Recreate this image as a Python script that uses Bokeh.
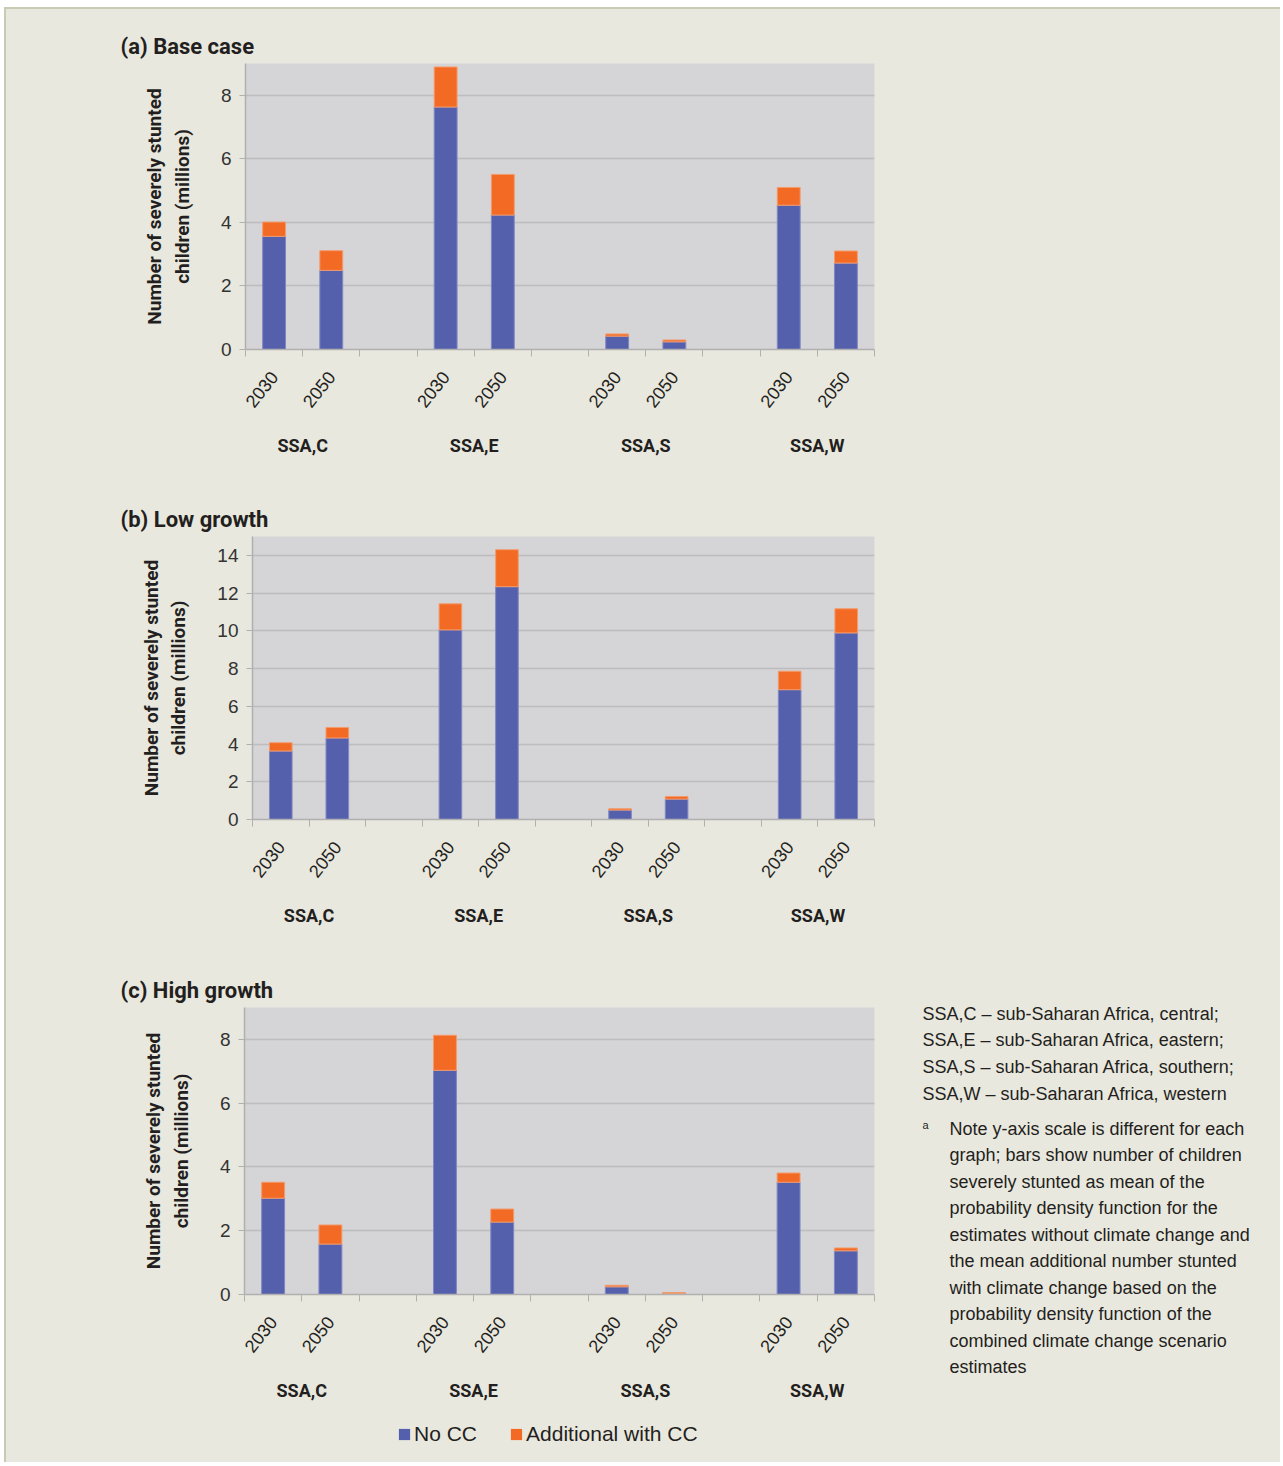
from bokeh.plotting import figure
from bokeh.models import (Range1d, FixedTicker, LinearAxis, Label, Legend, LegendItem,
                          ColumnDataSource, Title)
from bokeh.layouts import column, row
from bokeh.embed import file_html
from bokeh.resources import INLINE

# ---------------- data ----------------
regions = ["SSA,C", "SSA,E", "SSA,S", "SSA,W"]
years = ["2030", "2050"]

# order: C2030, C2050, E2030, E2050, S2030, S2050, W2030, W2050
base_nocc = [3.56, 2.49, 7.63, 4.23, 0.42, 0.24, 4.54, 2.72]
base_add = [0.45, 0.62, 1.26, 1.28, 0.07, 0.06, 0.56, 0.38]

low_nocc = [3.63, 4.32, 10.05, 12.34, 0.50, 1.08, 6.88, 9.89]
low_add = [0.44, 0.56, 1.38, 1.96, 0.07, 0.14, 0.98, 1.28]

high_nocc = [3.02, 1.58, 7.03, 2.27, 0.24, 0.03, 3.52, 1.37]
high_add = [0.50, 0.60, 1.10, 0.41, 0.05, 0.03, 0.29, 0.09]

panel_titles = ["(a) Base case", "(b) Low growth", "(c) High growth"]
y_max = [9, 15, 9]
y_ticks = [[0, 2, 4, 6, 8], [0, 2, 4, 6, 8, 10, 12, 14], [0, 2, 4, 6, 8]]
series_names = ["No CC", "Additional with CC"]
y_label = "Number of severely stunted\nchildren (millions)"

region_notes = [
    "SSA,C \u2013 sub-Saharan Africa, central;",
    "SSA,E \u2013 sub-Saharan Africa, eastern;",
    "SSA,S \u2013 sub-Saharan Africa, southern;",
    "SSA,W \u2013 sub-Saharan Africa, western",
]
note_mark = "a"
note_lines = [
    "Note y-axis scale is different for each",
    "graph; bars show number of children",
    "severely stunted as mean of the",
    "probability density function for the",
    "estimates without climate change and",
    "the mean additional number stunted",
    "with climate change based on the",
    "probability density function of the",
    "combined climate change scenario",
    "estimates",
]

# ---------------- style ----------------
BG = "#E9E8DE"
PLOT_BG = "#D5D5D7"
GRID = "#BDBDBF"
AXIS = "#B0B0B0"
BLUE = "#5560AC"
ORANGE = "#F26A24"
TXT = "#231F20"
EDGE = "#C9CAB3"
BOLD = "Roboto"
SANS = "Liberation Sans"

OX, OY = 6, 9          # page position of the beige panel
PAGE_R = 1280          # page x where the layout ends
W = PAGE_R - OX
RIGHT_EDGE = 874       # page x of plot-frame right edge

# per chart: page top of figure, figure height, frame top, frame bottom, frame left
charts = [
    dict(top=9, h=469, ftop=63, fbot=349, fleft=245),
    dict(top=478, h=470, ftop=536, fbot=819, fleft=252),
    dict(top=948, h=462, ftop=1007, fbot=1294, fleft=244),
]
C_RIGHT_PAD = 20

slot = len(years) + 1
n_slots = slot * len(regions) - 1
bar_x, year_lab = [], []
for g in range(len(regions)):
    for j, yr in enumerate(years):
        bar_x.append(2 * (g * slot + j) + 1)
        year_lab.append(yr)
group_x = [2 * (g * slot) + len(years) for g in range(len(regions))]
boundaries = list(range(0, 2 * n_slots + 1, 2))

datasets = [(base_nocc, base_add), (low_nocc, low_add), (high_nocc, high_add)]


def blank_fig(width, height):
    f = figure(width=width, height=height, output_backend="svg", toolbar_location=None,
               x_range=Range1d(0, 1), y_range=Range1d(0, 1),
               x_axis_location=None, y_axis_location=None,
               min_border=0, min_border_left=0, min_border_right=0,
               min_border_top=0, min_border_bottom=0,
               background_fill_color=BG, border_fill_color=BG, outline_line_color=None)
    f.grid.visible = False
    return f


figs = []
for k in range(3):
    c = charts[k]
    top = c["ftop"] - c["top"]
    bottom = c["top"] + c["h"] - c["fbot"]
    left = c["fleft"] - OX
    if k < 2:
        width = W
        right = PAGE_R - RIGHT_EDGE
    else:
        width = RIGHT_EDGE + C_RIGHT_PAD - OX
        right = C_RIGHT_PAD
    p = figure(width=width, height=c["h"], output_backend="svg", toolbar_location=None,
               x_range=Range1d(0, 2 * n_slots), y_range=Range1d(0, y_max[k]),
               min_border_top=top, min_border_bottom=bottom,
               min_border_left=left, min_border_right=right,
               background_fill_color=PLOT_BG, border_fill_color=BG,
               outline_line_color=None)
    nocc, add = datasets[k]
    src = ColumnDataSource(dict(x=bar_x, nocc=nocc, add=add))
    p.vbar_stack(["nocc", "add"], x="x", width=0.8, source=src,
                 fill_color=[BLUE, ORANGE], line_color=["#8087C4", "#F49B6C"],
                 line_width=1)

    p.xgrid.visible = False
    p.ygrid.ticker = FixedTicker(ticks=y_ticks[k])
    p.ygrid.grid_line_color = GRID
    p.ygrid.grid_line_width = 1.5

    ya = p.yaxis[0]
    ya.ticker = FixedTicker(ticks=y_ticks[k])
    ya.axis_line_color = AXIS
    ya.axis_line_width = 1.5
    ya.major_tick_line_color = AXIS
    ya.major_tick_out = 6
    ya.major_tick_in = 0
    ya.minor_tick_line_color = None
    ya.major_label_text_font = SANS
    ya.major_label_text_font_size = "19px"
    ya.major_label_text_color = "#333333"
    ya.major_label_standoff = 8
    ya.axis_label = y_label
    ya.axis_label_text_font = BOLD
    ya.axis_label_text_font_style = "bold"
    ya.axis_label_text_font_size = "19px"
    ya.axis_label_text_line_height = 1.2
    ya.axis_label_text_color = TXT
    ya.axis_label_standoff = 24

    xa = p.xaxis[0]
    xa.ticker = FixedTicker(ticks=boundaries)
    xa.major_label_overrides = {b: "" for b in boundaries}
    xa.major_label_text_font_size = "1px"
    xa.major_label_standoff = 0
    xa.axis_line_color = AXIS
    xa.axis_line_width = 1.5
    xa.major_tick_line_color = AXIS
    xa.major_tick_out = 7
    xa.major_tick_in = 0
    xa.minor_tick_line_color = None

    ax_y = LinearAxis(ticker=FixedTicker(ticks=bar_x),
                      major_label_overrides={x: t for x, t in zip(bar_x, year_lab)},
                      major_label_orientation=0.9,
                      axis_line_color=None, major_tick_line_color=None,
                      minor_tick_line_color=None,
                      major_label_text_font=SANS, major_label_text_font_size="18px",
                      major_label_text_color=TXT, major_label_standoff=11)
    p.add_layout(ax_y, "below")

    ax_g = LinearAxis(ticker=FixedTicker(ticks=group_x),
                      major_label_overrides={x: t for x, t in zip(group_x, regions)},
                      axis_line_color=None, major_tick_line_color=None,
                      minor_tick_line_color=None,
                      major_label_text_font=BOLD, major_label_text_font_style="bold",
                      major_label_text_font_size="18px",
                      major_label_text_color=TXT, major_label_standoff=13)
    p.add_layout(ax_g, "below")

    p.add_layout(Title(text=panel_titles[k], align="left", offset=120 - c["fleft"],
                       standoff=10, text_font=BOLD, text_font_style="bold",
                       text_font_size="22px", text_color=TXT), "above")
    figs.append(p)

# ---- notes panel (to the right of chart c) ----
c = charts[2]
note_x0 = RIGHT_EDGE + C_RIGHT_PAD
note_w = PAGE_R - note_x0
note_fig = blank_fig(note_w, c["h"])
note_bottom = c["top"] + c["h"]
for i, line in enumerate(region_notes):
    note_fig.add_layout(Label(x=922 - note_x0, y=note_bottom - (1013 + i * 26.67),
                              x_units="screen", y_units="screen", text=line,
                              text_font=SANS, text_font_size="18px", text_color=TXT,
                              text_baseline="middle"))
note_fig.add_layout(Label(x=922 - note_x0, y=note_bottom - 1124, x_units="screen",
                          y_units="screen", text=note_mark, text_font=SANS,
                          text_font_size="11px", text_color=TXT, text_baseline="middle"))
for i, line in enumerate(note_lines):
    note_fig.add_layout(Label(x=949 - note_x0, y=note_bottom - (1128 + i * 26.55),
                              x_units="screen", y_units="screen", text=line,
                              text_font=SANS, text_font_size="18px", text_color=TXT,
                              text_baseline="middle"))

# ---- legend strip ----
leg_top = c["top"] + c["h"]
leg_h = 1462 - leg_top
leg_fig = blank_fig(W, leg_h)
# legend swatches only: single off-range entries so the legend has a glyph to draw
r_blue = leg_fig.vbar(x=[-5], top=[-5], width=0.5, fill_color=BLUE, line_color=None)
r_orange = leg_fig.vbar(x=[-5], top=[-5], width=0.5, fill_color=ORANGE, line_color=None)
legend = Legend(items=[LegendItem(label=series_names[0], renderers=[r_blue]),
                       LegendItem(label=series_names[1], renderers=[r_orange])],
                location=(397 - OX, leg_h - (1434 - leg_top) - 12), orientation="horizontal",
                label_text_font=SANS, label_text_font_size="21px",
                label_text_color=TXT, glyph_width=14, glyph_height=14,
                label_standoff=3, spacing=32, padding=0, margin=0,
                border_line_color=None, background_fill_alpha=0)
leg_fig.add_layout(legend)

layout = column(row(figs[0]), row(figs[1]),
                row(column(figs[2]), column(note_fig), spacing=0),
                row(leg_fig),
                spacing=0, margin=(OY - 2, 0, 0, OX - 2),
                styles={"background-color": BG,
                        "border-top": "2px solid " + EDGE,
                        "border-left": "2px solid " + EDGE})
open("out.html", "w").write(file_html(layout, INLINE))
